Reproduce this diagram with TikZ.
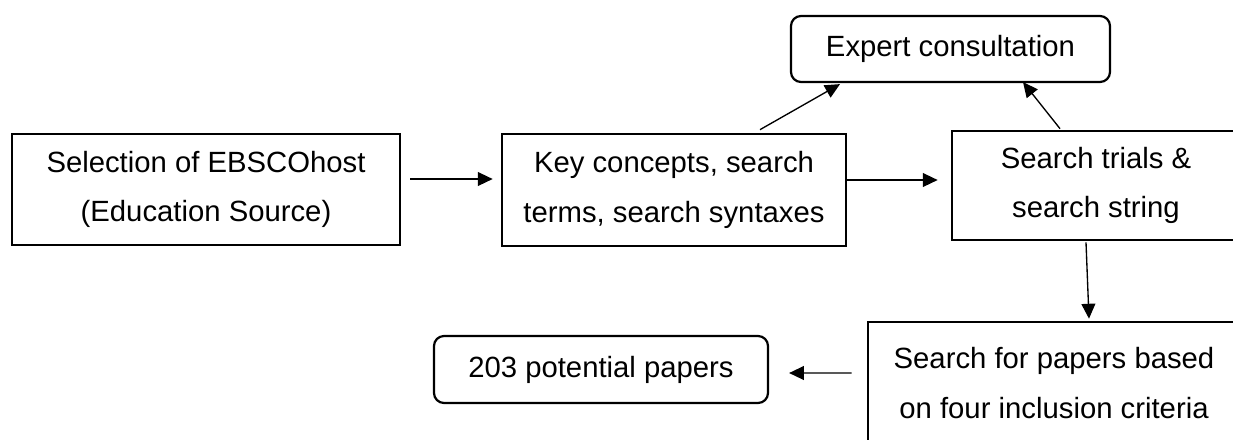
\documentclass[tikz,border=0pt]{standalone}
\usepackage{fontspec}
\setmainfont{Liberation Sans}
\usetikzlibrary{arrows.meta}
\newdimen\pxu
\pxu=0.0144cm
\tikzset{
  stage/.style={draw, line width=1.1pt, align=center, inner sep=0pt,
    font=\fontsize{12pt}{20.4pt}\selectfont},
  roundstage/.style={stage, line width=0.9pt, rounded corners=10\pxu},
  flow/.style={line width=0.55pt, -{Triangle[length=6.1pt,width=5.7pt]}}
}
\begin{document}
\begin{tikzpicture}[x=\pxu, y=-\pxu]
      \useasboundingbox (0,0) rectangle (1233,439);
      \clip (0,0) rectangle (1233,439);
      \node[stage, minimum width=388\pxu, minimum height=111\pxu] (select) at (206,189.5)
        {Selection of EBSCOhost\\(Education Source)};
      \node[stage, minimum width=344\pxu, minimum height=112\pxu] (concepts) at (674,190)
        {Key concepts, search\\terms, search syntaxes};
      \node[stage, minimum width=288\pxu, minimum height=109\pxu] (trials) at (1096,185.5)
        {Search trials \&\\search string};
      \node[roundstage, minimum width=319\pxu, minimum height=66\pxu] (expert) at (950.5,49)
        {Expert consultation};
      \node[stage, minimum width=372\pxu, minimum height=122\pxu] (criteria) at (1054,383)
        {Search for papers based\\on four inclusion criteria};
      \node[roundstage, minimum width=334\pxu, minimum height=67\pxu] (papers) at (601,369.5)
        {203 potential papers};
      \begin{scope}[flow]
        \draw ([shift={(9,-10.5)}]select.east) to ([shift={(-8,-11)}]concepts.west);
        \draw ([shift={(0,-10)}]concepts.east) to ([shift={(-13,-5.5)}]trials.west);
        \draw ([shift={(86,-3)}]concepts.north) to ([shift={(-110.5,1)}]expert.south);
        \draw ([shift={(-36,-1)}]trials.north) to ([shift={(72.5,-1)}]expert.south);
        \draw ([shift={(-10,1)}]trials.south) to ([shift={(35,-2)}]criteria.north);
        \draw ([shift={(-15,-10)}]criteria.west) to ([shift={(20,3.5)}]papers.east);
      \end{scope}
    \end{tikzpicture}
\end{document}
